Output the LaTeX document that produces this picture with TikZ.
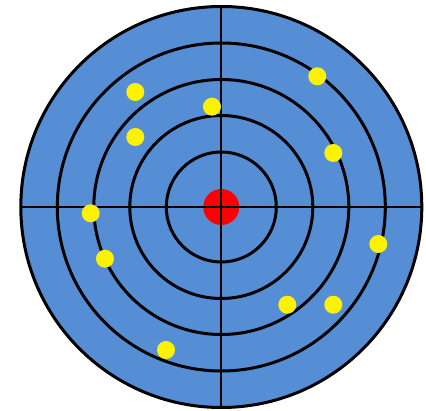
\documentclass[tikz,border=0pt]{standalone}
\definecolor{targetblue}{RGB}{85,142,213}
\tikzset{
  ring/.style={draw=black,line width=3pt},
  cross/.style={draw=black,line width=2pt},
  hit/.style={fill=yellow},
  bull/.style={fill=red}
}
\begin{document}
\begin{tikzpicture}[x=1pt,y=-1pt]
\useasboundingbox (0,0) rectangle (426,411);
\coordinate (c) at (221.3,207);
\fill[targetblue] (c) circle (200.5);
\fill[bull] (c) circle (18);
\foreach \r in {55,91.5,127.5,164,200.5} \draw[ring] (c) circle (\r);
\coordinate (l) at (20.5,207);
\coordinate (r) at (422,207);
\coordinate (t) at (221.3,6.5);
\coordinate (b) at (221.3,407.5);
\draw[cross] (l) -- (r);
\draw[cross] (t) -- (b);
\foreach \x/\y in {135.3/92, 212/106.7, 317.3/76.3, 135.3/137, 333.3/153, 90.7/213.3, 105/258.7, 378.3/244, 287.3/304.7, 333.3/304.7, 166/350}
  \fill[hit] (\x,\y) circle (9);
\end{tikzpicture}
\end{document}
